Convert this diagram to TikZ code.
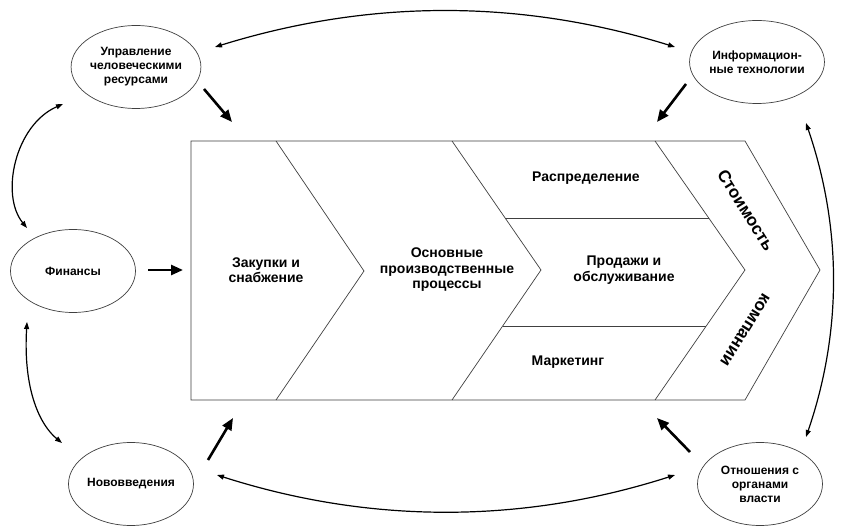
\documentclass[tikz,border=0pt]{standalone}
\usepackage{fontspec}
\setmainfont{Liberation Sans}
\usetikzlibrary{arrows.meta,shapes.geometric}
\begin{document}
\begin{tikzpicture}[x=1pt,y=-1pt,
  oval/.style={draw=black!75, line width=0.7pt, ellipse, minimum width=125pt, minimum height=83pt, inner sep=0pt, align=center, font=\fontsize{12}{14}\selectfont\bfseries},
  chev/.style={draw=black!75, line width=0.7pt},
  lbl/.style={align=center, font=\fontsize{14}{15.5}\selectfont\bfseries},
  big/.style={font=\fontsize{17}{17}\selectfont\bfseries},
  fat/.style={line width=2.6pt, -{Triangle[length=12pt,width=10pt]}},
  arc/.style={line width=1.2pt, {Triangle[length=7pt,width=5pt]}-{Triangle[length=7pt,width=5pt]}}
]
\fill[white] (0,0) rectangle (857,526);
\useasboundingbox (0,0) rectangle (857,526);

% chevron body
\draw[chev, fill=white] (191,141) -- (745,141) -- (820,270) -- (745,400) -- (191,400) -- cycle;
\draw[chev] (276,141) -- (364,271) -- (276,400);
\draw[chev] (452,141) -- (541,270) -- (452,400);
\draw[chev] (655,141) -- (745,270) -- (655,400);
\draw[chev] (505.1,218) -- (708.7,218);
\draw[chev] (502.7,326) -- (706.2,326);

\node[lbl] (zak) at (266,270) {Закупки и\\снабжение};
\node[lbl] (osn) at (447,270) {Основные\\производственные\\процессы};
\node[lbl] (rasp) at (586,178) {Распределение};
\node[lbl] (prod) at (624,270) {Продажи и\\обслуживание};
\node[lbl] (mark) at (568,362) {Маркетинг};
\node[big, rotate=-58] (st) at (746,210) {Стоимость};
\node[big, rotate=-122] (km) at (745,330) {компании};

% ellipses
\node[oval] (hr) at (136,67) {Управление\\человеческими\\ресурсами};
\node[oval] (it) at (757,62) {Информацион-\\ные технологии};
\node[oval] (fin) at (73,271) {Финансы};
\node[oval] (nov) at (131,484) {Нововведения};
\node[oval] (gov) at (760,484) {Отношения с\\органами\\власти};

% thick arrows
\coordinate (hrA) at (204,89);  \coordinate (hrB) at (232,122);
\coordinate (itA) at (686,84);  \coordinate (itB) at (657,122);
\coordinate (finA) at (148,270); \coordinate (finB) at (183,270);
\coordinate (novA) at (208,460); \coordinate (novB) at (233,418);
\coordinate (govA) at (690,452); \coordinate (govB) at (657,418);
\draw[fat] (hrA) -- (hrB);
\draw[fat] (itA) -- (itB);
\draw[fat] (finA) -- (finB);
\draw[fat] (novA) -- (novB);
\draw[fat] (govA) -- (govB);

% curved double arrows
\coordinate (t1) at (215,47); \coordinate (t2) at (675,47);
\coordinate (b1) at (217,475); \coordinate (b2) at (675,475);
\coordinate (r1) at (806,123); \coordinate (r2) at (806,437);
\coordinate (l1) at (63,104); \coordinate (l2) at (27,228);
\coordinate (l3) at (27,322); \coordinate (l4) at (62,443);
\draw[arc] (t1) .. controls (370,-1) and (520,-1) .. (t2);
\draw[arc] (b1) .. controls (370,524) and (522,524) .. (b2);
\draw[arc] (r1) .. controls (842,228) and (842,332) .. (r2);
\draw[arc] (l1) .. controls (15,125) and (0,195) .. (l2);
\draw[arc] (l3) .. controls (23,390) and (40,425) .. (l4);
\end{tikzpicture}
\end{document}
